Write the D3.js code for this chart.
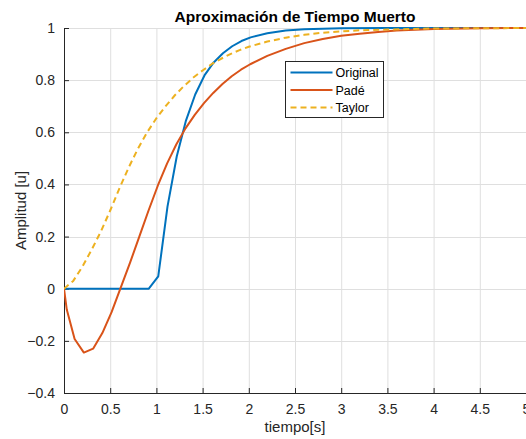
<!DOCTYPE html>
<html><head><meta charset="utf-8">
<script src="https://cdn.jsdelivr.net/npm/d3@7"></script>
<style>body{margin:0;background:#fff}svg{display:block}text{font-family:"Liberation Sans",Arial,Helvetica,sans-serif}</style>
</head><body>
<script>
const origT = [0,0.918,1.02,1.12,1.22,1.32,1.42,1.52,1.62,1.72,1.82,1.92,2.02,2.2,2.4,2.6,2.8,3.0,3.5,4,5];
const origV = [0,0,0.047,0.315,0.507,0.645,0.745,0.818,0.868,0.903,0.93,0.95,0.964,0.98,0.99,0.995,0.997,0.999,1,1,1];
const padeT = [0,0.03,0.115,0.215,0.315,0.415,0.515,0.615,0.715,0.815,0.915,1.015,1.115,1.215,1.315,1.415,1.515,1.615,1.715,1.815,1.915,2.015,2.2,2.4,2.6,2.8,3.0,3.2,3.4,3.6,3.8,4.0,4.5,5];
const padeV = [0,-0.08,-0.193,-0.245,-0.23,-0.17,-0.09,0.005,0.1,0.2,0.3,0.395,0.48,0.553,0.615,0.667,0.712,0.751,0.785,0.815,0.84,0.861,0.893,0.92,0.942,0.958,0.97,0.978,0.985,0.99,0.993,0.996,0.999,1];
const taylorT = [0,0.1,0.2,0.3,0.4,0.5,0.6,0.7,0.8,0.9,1.0,1.1,1.2,1.3,1.4,1.5,1.6,1.7,1.8,1.9,2.0,2.2,2.4,2.6,2.8,3.0,3.2,3.5,4,4.5,5];
const taylorV = [0,0.03,0.085,0.15,0.22,0.3,0.385,0.465,0.537,0.6,0.654,0.7,0.742,0.778,0.81,0.837,0.862,0.882,0.9,0.915,0.928,0.948,0.963,0.974,0.982,0.987,0.991,0.994,0.998,0.999,1];
const xTicks = [0,0.5,1,1.5,2,2.5,3,3.5,4,4.5,5];
const yTicks = [-0.4,-0.2,0,0.2,0.4,0.6,0.8,1];
const seriesNames = ["Original","Padé","Taylor"];
const colors = ["#0072BD","#D95319","#EDB120"];

const W=526,H=439, L=64, R=526, T=28, B=393;
const svg=d3.select("body").append("svg").attr("width",W).attr("height",H);
const x=d3.scaleLinear().domain([0,5]).range([L,R]);
const y=d3.scaleLinear().domain([-0.4,1]).range([B,T]);
const ink="#262626";

// grid
svg.append("g").selectAll("line").data(xTicks).join("line")
  .attr("x1",d=>x(d)+0.5).attr("x2",d=>x(d)+0.5).attr("y1",T).attr("y2",B)
  .attr("stroke","#dfdfdf").attr("stroke-width",1);
svg.append("g").selectAll("line").data(yTicks).join("line")
  .attr("y1",d=>Math.round(y(d))+0.5).attr("y2",d=>Math.round(y(d))+0.5).attr("x1",L).attr("x2",R)
  .attr("stroke","#dfdfdf").attr("stroke-width",1);

// axes
const xa=svg.append("g").attr("transform",`translate(0,${B})`)
  .call(d3.axisBottom(x).tickValues(xTicks).tickSize(-5).tickSizeOuter(0).tickPadding(11).tickFormat(d3.format("")));
const ya=svg.append("g").attr("transform",`translate(${L},0)`)
  .call(d3.axisLeft(y).tickValues(yTicks).tickSize(-5).tickSizeOuter(0).tickPadding(9).tickFormat(d=>d===0?"0":d3.format("")(+d.toFixed(1))));
[xa,ya].forEach(a=>{
  a.select(".domain").attr("stroke",ink).attr("stroke-width",1);
  a.selectAll(".tick line").attr("stroke",ink);
  a.selectAll(".tick text").attr("fill",ink).attr("font-size",14).attr("font-family","Liberation Sans, Arial, sans-serif");
});

// lines
svg.append("clipPath").attr("id","c").append("rect").attr("x",L).attr("y",T-2).attr("width",R-L+2).attr("height",B-T+4);
const line=d3.line().x(d=>x(d[0])).y(d=>y(d[1]));
const sets=[d3.zip(origT,origV),d3.zip(padeT,padeV),d3.zip(taylorT,taylorV)];
const g=svg.append("g").attr("clip-path","url(#c)");
sets.forEach((s,i)=>{
  g.append("path").datum(s).attr("d",line).attr("fill","none")
   .attr("stroke",colors[i]).attr("stroke-width",2)
   .attr("stroke-dasharray",i===2?"6,4":null).attr("stroke-linejoin","round");
});

// title & labels
svg.append("text").attr("x",(L+R)/2).attr("y",22).attr("text-anchor","middle")
  .attr("font-weight","bold").attr("font-size",15.5).attr("fill","#000").text("Aproximación de Tiempo Muerto");
svg.append("text").attr("x",(L+R)/2).attr("y",432).attr("text-anchor","middle")
  .attr("font-size",15).attr("fill",ink).text("tiempo[s]");
svg.append("text").attr("transform",`translate(26,${(T+B)/2}) rotate(-90)`).attr("text-anchor","middle")
  .attr("font-size",15).attr("fill",ink).text("Amplitud [u]");

// legend
const lg=svg.append("g").attr("transform","translate(285.5,61.5)");
lg.append("rect").attr("width",98).attr("height",56).attr("fill","#fff").attr("stroke",ink).attr("stroke-width",1);
seriesNames.forEach((n,i)=>{
  const yy=11+i*17.5;
  lg.append("line").attr("x1",5).attr("x2",47).attr("y1",yy).attr("y2",yy)
    .attr("stroke",colors[i]).attr("stroke-width",2).attr("stroke-dasharray",i===2?"6,4":null);
  lg.append("text").attr("x",50).attr("y",yy+4.5).attr("font-size",12.5).attr("fill","#000").text(n);
});
</script>
</body></html>
